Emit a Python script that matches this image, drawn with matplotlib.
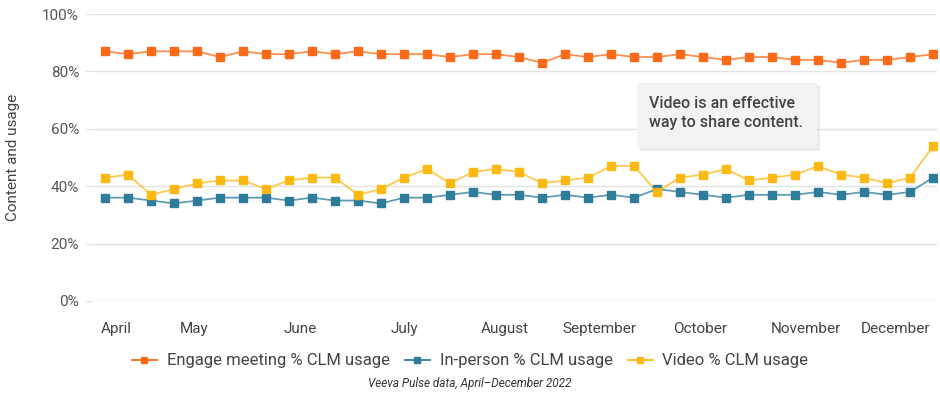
import matplotlib
matplotlib.use("Agg")
import matplotlib.pyplot as plt
from matplotlib.patches import FancyBboxPatch
import numpy as np

plt.rcParams['font.family'] = ['Roboto', 'DejaVu Sans']

# weekly values, April - December 2022
engage = [87, 86, 87, 87, 87, 85, 87, 86, 86, 87, 86, 87, 86, 86, 86, 85, 86, 86, 85,
          83, 86, 85, 86, 85, 85, 86, 85, 84, 85, 85, 84, 84, 83, 84, 84, 85, 86]
in_person = [36, 36, 35, 34, 35, 36, 36, 36, 35, 36, 35, 35, 34, 36, 36, 37, 38, 37, 37,
             36, 37, 36, 37, 36, 39, 38, 37, 36, 37, 37, 37, 38, 37, 38, 37, 38, 43]
video = [43, 44, 37, 39, 41, 42, 42, 39, 42, 43, 43, 37, 39, 43, 46, 41, 45, 46, 45,
         41, 42, 43, 47, 47, 38, 43, 44, 46, 42, 43, 44, 47, 44, 43, 41, 43, 54]

months = ["April", "May", "June", "July", "August", "September", "October",
          "November", "December"]
month_pos = [0.5, 3.87, 8.5, 13.0, 17.4, 21.5, 25.87, 30.48, 34.35]

series = [
    ("Engage meeting % CLM usage", engage, "#fb6a19"),
    ("In-person % CLM usage", in_person, "#2e7b9a"),
    ("Video % CLM usage", video, "#fdb913"),
]

fig = plt.figure(figsize=(9.4, 3.97), dpi=100)
ax = fig.add_axes([93 / 940, 96 / 397, 844 / 940, 287 / 397])

x = np.arange(len(engage))
for name, vals, col in series:
    ax.plot(x, vals, color=col, lw=1.3, alpha=0.75, zorder=2)
    ax.plot(x, vals, ls="none", marker="s", ms=6, color=col, zorder=3)
    # legend proxy
    ax.plot([], [], color=col, lw=1.3, marker="s", ms=4.5, label=name)

ax.set_xlim(-0.52, 36.17)
ax.set_ylim(0, 100)
ax.set_yticks([0, 20, 40, 60, 80, 100])
ax.set_yticklabels([f"{v}%" for v in [0, 20, 40, 60, 80, 100]])
ax.set_xticks(month_pos)
ax.set_xticklabels(months)
ax.grid(axis="y", color="#e3e3e3", lw=1, zorder=0)
for s in ax.spines.values():
    s.set_visible(False)
ax.tick_params(axis="y", length=6, color="#e3e3e3", labelsize=11, labelcolor="#555555", pad=4)
ax.tick_params(axis="x", length=0, labelsize=11, labelcolor="#444444", pad=15)
ax.set_ylabel("Content and usage", fontsize=11, color="#444444", labelpad=16)

leg = fig.legend(loc="center", bbox_to_anchor=(0.5, 1 - 361 / 397), ncol=3, frameon=False,
                 fontsize=12, handlelength=1.5, columnspacing=0.9, handletextpad=0.6)
for t in leg.get_texts():
    t.set_color("#444444")

fig.text(0.5, 1 - 384 / 397, "Veeva Pulse data, April\u2013December 2022", ha="center",
         va="center", fontsize=8.5, style="italic", color="#333333")

# annotation box with soft shadow
bx0, by0, bw, bh = 637 / 940, 1 - 148 / 397, 180 / 940, 65 / 397
shadow = FancyBboxPatch((bx0 + 3 / 940, by0 - 3 / 397), bw, bh, boxstyle="square,pad=0",
                        transform=fig.transFigure, fc="#000000", alpha=0.08, ec="none", zorder=4)
box = FancyBboxPatch((bx0, by0), bw, bh, boxstyle="square,pad=0", transform=fig.transFigure,
                     fc="#f3f3f3", ec="none", zorder=5)
fig.patches.extend([shadow, box])
fig.text(649 / 940, 1 - 113 / 397, "Video is an effective\nway to share content.",
         ha="left", va="center", fontsize=11.5, fontweight="medium", color="#444444",
         linespacing=1.35, zorder=6)

fig.savefig("out.png", dpi=100)
